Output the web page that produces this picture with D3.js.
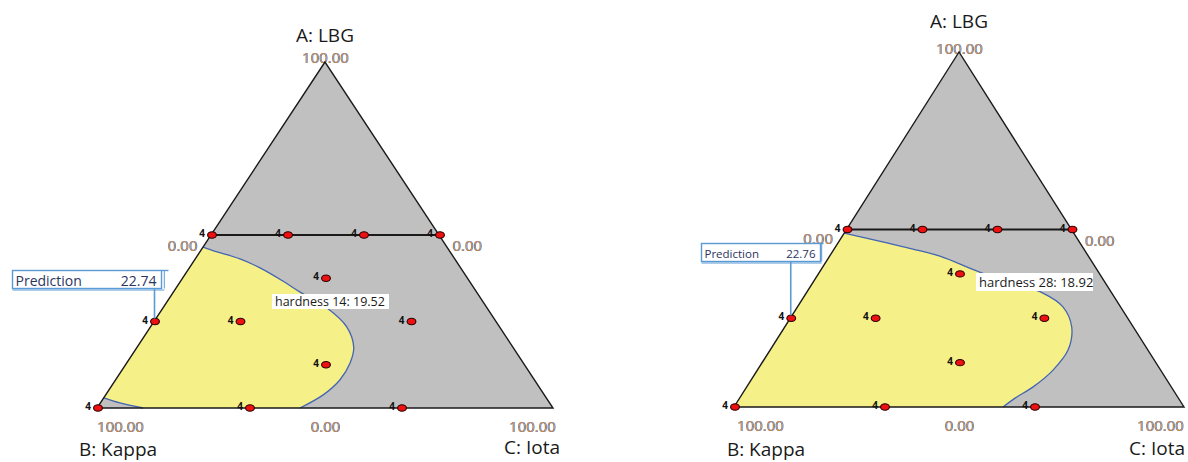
<!DOCTYPE html>
<html>
<head>
<meta charset="utf-8">
<script src="https://cdn.jsdelivr.net/npm/d3@7"></script>
<style>
  body { margin: 0; background: #fff; }
  svg { display: block; }
  text { font-family: "Open Sans", "Noto Sans", sans-serif; }
</style>
</head>
<body>
<svg id="chart" width="1188" height="462"></svg>
<script>
// ---- Design points: A (LBG) and B (Kappa) in percent, C (Iota) is the remainder
const pointA = [50, 50, 50, 50, 37.5, 25, 25, 25, 12.5, 0, 0, 0];
const pointB = [50, 33.33, 16.67, 0, 31.25, 75, 56.25, 18.75, 43.75, 100, 66.67, 33.33];
const pointCount = [4, 4, 4, 4, 4, 4, 4, 4, 4, 4, 4, 4];

// ---- Axis text
const vertexNames = ["A: LBG", "B: Kappa", "C: Iota"];
const maxLabel = "100.00";
const minLabel = "0.00";

// ---- Contour boundaries, each vertex as [A, C] in percent
const hardness14Contour = [[46.5, 0], [45.1, 3.8], [43.1, 9.8], [40.5, 15.5], [36.7, 22.4], [33.5, 27.8],
  [28.9, 36.0], [23.4, 43.1], [17.6, 47.5], [13.0, 49.0], [8.1, 49.2], [3.8, 47.7], [0, 44.5]];
const hardness14Corner = [[0, 10.1], [1.45, 4.3], [2.9, 0]];
const hardness28Contour = [[49, 0], [46.2, 10.9], [44.5, 17.5], [42.5, 24.5], [38, 35.6], [35, 44],
  [32.1, 52.6], [28.2, 59], [22.5, 63.8], [16.1, 66.2], [10.4, 65.7], [5.6, 63.6], [2.5, 61.2], [0, 59.8]];
const hardness28Corner = [[0, 0]];

const contourNames = ["hardness 14", "hardness 28"];
const contourValues = [19.52, 18.92];
const predictionValues = [22.74, 22.76];
const predictionPoint = [5, 5];

// ---- Panel layout
const panels = [
  { x0: 97, x1: 553, yb: 408, yt: 62, titleY: 42, topNumY: 63, sideNumDy: 16,
    bNumX: 120, cNumX: 532, bTitle: [118, 456], cTitle: [532, 454],
    contour: hardness14Contour, corner: hardness14Corner, cornerLine: true,
    pred: { x: 12.5, y: 270.5, w: 149, h: 18, fs: 14, base: 286, ext: 7 },
    hover: { x: 272, y: 294, w: 117, h: 15, fs: 12.5, base: 306 } },
  { x0: 734, x1: 1184, yb: 407, yt: 52, titleY: 28, topNumY: 54, sideNumDy: 14,
    bNumX: 760, cNumX: 1160, bTitle: [766, 456], cTitle: [1157, 455],
    contour: hardness28Contour, corner: hardness28Corner, cornerLine: false,
    pred: { x: 701.5, y: 243.5, w: 119, h: 18, fs: 11.5, base: 258, ext: 3 },
    hover: { x: 976, y: 273, w: 117, h: 18, fs: 13, base: 287 } }
];

const svg = d3.select("#chart");

// Numeric axis labels get a slight colour fringe
const defs = svg.append("defs");
const f = defs.append("filter").attr("id", "fringe")
  .attr("x", "-10%").attr("y", "-30%").attr("width", "120%").attr("height", "160%");
f.append("feOffset").attr("in", "SourceAlpha").attr("dx", 0.7).attr("dy", 0).attr("result", "off");
f.append("feFlood").attr("flood-color", "#5a95dc").attr("result", "blue");
f.append("feComposite").attr("in", "blue").attr("in2", "off").attr("operator", "in").attr("result", "shadow");
const fm = f.append("feMerge");
fm.append("feMergeNode").attr("in", "shadow");
fm.append("feMergeNode").attr("in", "SourceGraphic");

const YELLOW = "#f6f089";
const GRAY = "#c0c0c0";
const CONTOUR = "#4465b0";
const FLAG = "#5b9bd5";

panels.forEach((cfg, i) => {
  const g = svg.append("g");
  const xs = d3.scaleLinear().domain([0, 1]).range([cfg.x0, cfg.x1]);
  const ys = d3.scaleLinear().domain([0, 1]).range([cfg.yb, cfg.yt]);
  const proj = (a, c) => [xs(c / 100 + a / 200), ys(a / 100)];
  const midX = xs(0.5);

  const num = (x, y, t, anchor) => g.append("text")
    .attr("x", x).attr("y", y).attr("text-anchor", anchor)
    .attr("font-size", 15).attr("fill", "#c2843f")
    .attr("filter", "url(#fringe)").text(t);

  // axis numbers (outline is drawn over them)
  const lineL = proj(50, 0), lineR = proj(50, 50);
  num(midX, cfg.topNumY, maxLabel, "middle");
  num(lineL[0] - 14, lineL[1] + cfg.sideNumDy, minLabel, "end");
  num(lineR[0] + 13, lineR[1] + 16, minLabel, "start");
  num(cfg.bNumX, cfg.yb + 24, maxLabel, "middle");
  num(midX, cfg.yb + 24, minLabel, "middle");
  num(cfg.cNumX, cfg.yb + 24, maxLabel, "middle");

  // vertex titles
  const title = (x, y, t) => g.append("text").attr("x", x).attr("y", y)
    .attr("text-anchor", "middle").attr("font-size", 19).attr("fill", "#1a1a1a").text(t);
  title(midX, cfg.titleY, vertexNames[0]);
  title(cfg.bTitle[0], cfg.bTitle[1], vertexNames[1]);
  title(cfg.cTitle[0], cfg.cTitle[1], vertexNames[2]);

  // simplex
  const tri = [proj(100, 0), proj(0, 0), proj(0, 100)];
  g.append("path").attr("d", "M" + tri.join("L") + "Z").attr("fill", GRAY);

  // region above the contour level
  const curve = d3.line().curve(d3.curveCatmullRom.alpha(0.5));
  const mainPts = cfg.contour.map(d => proj(d[0], d[1]));
  const tailPts = cfg.corner.map(d => proj(d[0], d[1]));
  const mainPath = curve(mainPts);
  g.append("path").attr("d", mainPath + "L" + tailPts.join("L") + "Z").attr("fill", YELLOW);
  g.append("path").attr("d", mainPath).attr("fill", "none")
    .attr("stroke", CONTOUR).attr("stroke-width", 1.3);
  if (cfg.cornerLine) {
    g.append("path").attr("d", curve(tailPts)).attr("fill", "none")
      .attr("stroke", CONTOUR).attr("stroke-width", 1.3);
  }

  // constraint line at A = 50
  g.append("line").attr("x1", lineL[0]).attr("y1", lineL[1]).attr("x2", lineR[0]).attr("y2", lineR[1])
    .attr("stroke", "#1a1a1a").attr("stroke-width", 2);

  // outline
  g.append("path").attr("d", "M" + tri.join("L") + "Z").attr("fill", "none")
    .attr("stroke", "#1a1a1a").attr("stroke-width", 1.4).attr("stroke-linejoin", "miter");

  // design points
  const pts = pointA.map((a, k) => {
    const c = 100 - a - pointB[k];
    const [x, y] = proj(a, c);
    return { x, y, n: pointCount[k] };
  });
  const pg = g.append("g");
  pg.selectAll("ellipse").data(pts).join("ellipse")
    .attr("cx", d => d.x + 1).attr("cy", d => d.y).attr("rx", 4.4).attr("ry", 3.2)
    .attr("fill", "#ee1111").attr("stroke", "#2a0000").attr("stroke-width", 1.1);
  pg.selectAll("text").data(pts).join("text")
    .attr("x", d => d.x - 6).attr("y", d => d.y + 2)
    .attr("text-anchor", "end").attr("font-size", 10).attr("font-weight", "bold")
    .attr("fill", "#111").text(d => d.n);

  // prediction flag
  const p = cfg.pred;
  const target = pts[predictionPoint[i]];
  g.append("line").attr("x1", target.x + 0.5).attr("x2", target.x + 0.5)
    .attr("y1", p.y + p.h).attr("y2", target.y - 3)
    .attr("stroke", FLAG).attr("stroke-width", 1.6);
  g.append("rect").attr("x", p.x).attr("y", p.y).attr("width", p.w).attr("height", p.h)
    .attr("fill", "#fff").attr("stroke", FLAG).attr("stroke-width", 1.4);
  g.append("line").attr("x1", p.x + p.w).attr("x2", p.x + p.w + p.ext).attr("y1", p.y).attr("y2", p.y)
    .attr("stroke", FLAG).attr("stroke-width", 1.4);
  g.append("line").attr("x1", p.x + p.w + p.ext * 0.4).attr("x2", p.x + p.w + p.ext * 0.4)
    .attr("y1", p.y).attr("y2", p.y + p.h)
    .attr("stroke", FLAG).attr("stroke-width", 1);
  g.append("line").attr("x1", p.x).attr("x2", p.x + p.w + p.ext * 0.4)
    .attr("y1", p.y + p.h + 1.5).attr("y2", p.y + p.h + 1.5)
    .attr("stroke", FLAG).attr("stroke-width", 1);
  g.append("text").attr("x", p.x + 3).attr("y", p.base).attr("font-size", p.fs)
    .attr("fill", "#2b3560").text("Prediction");
  g.append("text").attr("x", p.x + p.w - 5).attr("y", p.base).attr("font-size", p.fs)
    .attr("text-anchor", "end").attr("fill", "#2b3560").text(predictionValues[i].toFixed(2));

  // contour value tag
  const h = cfg.hover;
  g.append("rect").attr("x", h.x).attr("y", h.y).attr("width", h.w).attr("height", h.h).attr("fill", "#fff");
  g.append("text").attr("x", h.x + 3).attr("y", h.base).attr("font-size", h.fs).attr("fill", "#1a1a1a")
    .text(contourNames[i] + ": " + contourValues[i].toFixed(2));
});
</script>
</body>
</html>
